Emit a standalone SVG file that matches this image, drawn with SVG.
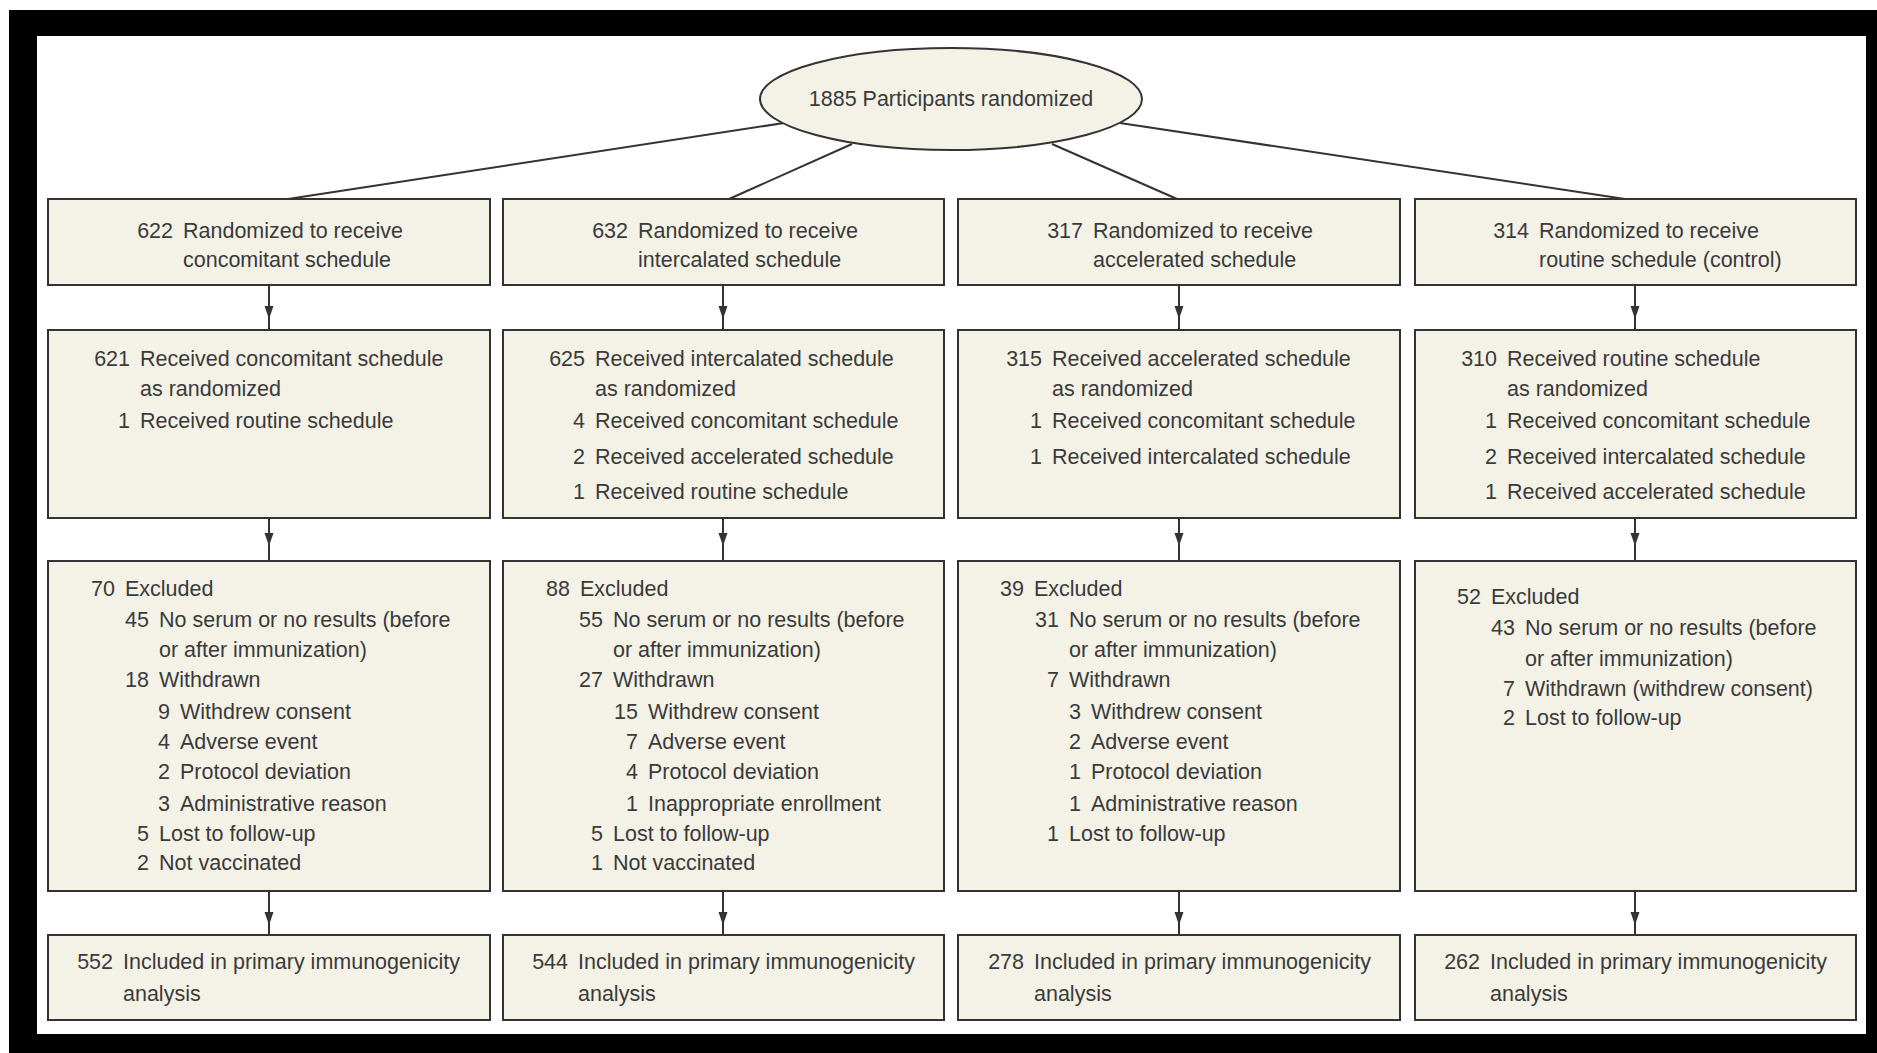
<svg xmlns="http://www.w3.org/2000/svg" width="1877" height="1053" viewBox="0 0 1877 1053">
<defs>
<style>
.bg{fill:#000}
.in{fill:#fff}
.box{fill:#f4f2e7;stroke:#333;stroke-width:2}
.t{font-family:"Liberation Sans",Arial,sans-serif;font-size:21.5px;fill:#3a3a3a}
.n{text-anchor:end}
.c{text-anchor:middle}
.ln{fill:none;stroke:#333;stroke-width:2}
</style>
<marker id="ah" markerUnits="userSpaceOnUse" markerWidth="14" markerHeight="10" refX="13" refY="4.5" orient="auto">
<path d="M0,0 L13,4.5 L0,9 z" fill="#333"/>
</marker>
</defs>
<rect x="0" y="0" width="1877" height="1053" fill="#fff"/>
<rect class="bg" x="9" y="10" width="1868" height="1043"/>
<rect class="in" x="37" y="36" width="1829" height="998"/>

<g id="connectors">
<path class="ln" d="M784,123 L288,199"/>
<path class="ln" d="M852,144 L729,199"/>
<path class="ln" d="M1052,144 L1177,199"/>
<path class="ln" d="M1120,123 L1625,199"/>
<path class="ln" d="M269,285 L269,319 L269,330" marker-mid="url(#ah)"/>
<path class="ln" d="M723,285 L723,319 L723,330" marker-mid="url(#ah)"/>
<path class="ln" d="M1179,285 L1179,319 L1179,330" marker-mid="url(#ah)"/>
<path class="ln" d="M1635,285 L1635,319 L1635,330" marker-mid="url(#ah)"/>
<path class="ln" d="M269,518 L269,546 L269,561" marker-mid="url(#ah)"/>
<path class="ln" d="M723,518 L723,546 L723,561" marker-mid="url(#ah)"/>
<path class="ln" d="M1179,518 L1179,546 L1179,561" marker-mid="url(#ah)"/>
<path class="ln" d="M1635,518 L1635,546 L1635,561" marker-mid="url(#ah)"/>
<path class="ln" d="M269,891 L269,925 L269,935" marker-mid="url(#ah)"/>
<path class="ln" d="M723,891 L723,925 L723,935" marker-mid="url(#ah)"/>
<path class="ln" d="M1179,891 L1179,925 L1179,935" marker-mid="url(#ah)"/>
<path class="ln" d="M1635,891 L1635,925 L1635,935" marker-mid="url(#ah)"/>
</g>

<g id="root">
<ellipse class="box" cx="951" cy="99" rx="191" ry="51"/>
<text class="t c" x="951" y="106">1885 Participants randomized</text>
</g>

<g id="rand1">
<rect class="box" x="48" y="199" width="442" height="86"/>
<text class="t n" x="173" y="238">622</text>
<text class="t" x="183" y="238">Randomized to receive</text>
<text class="t" x="183" y="267">concomitant schedule</text>
</g>
<g id="rand2">
<rect class="box" x="503" y="199" width="441" height="86"/>
<text class="t n" x="628" y="238">632</text>
<text class="t" x="638" y="238">Randomized to receive</text>
<text class="t" x="638" y="267">intercalated schedule</text>
</g>
<g id="rand3">
<rect class="box" x="958" y="199" width="442" height="86"/>
<text class="t n" x="1083" y="238">317</text>
<text class="t" x="1093" y="238">Randomized to receive</text>
<text class="t" x="1093" y="267">accelerated schedule</text>
</g>
<g id="rand4">
<rect class="box" x="1415" y="199" width="441" height="86"/>
<text class="t n" x="1529" y="238">314</text>
<text class="t" x="1539" y="238">Randomized to receive</text>
<text class="t" x="1539" y="267">routine schedule (control)</text>
</g>

<g id="recv1">
<rect class="box" x="48" y="330" width="442" height="188"/>
<text class="t n" x="130" y="366">621</text>
<text class="t" x="140" y="366">Received concomitant schedule</text>
<text class="t" x="140" y="396">as randomized</text>
<text class="t n" x="130" y="428">1</text>
<text class="t" x="140" y="428">Received routine schedule</text>
</g>
<g id="recv2">
<rect class="box" x="503" y="330" width="441" height="188"/>
<text class="t n" x="585" y="366">625</text>
<text class="t" x="595" y="366">Received intercalated schedule</text>
<text class="t" x="595" y="396">as randomized</text>
<text class="t n" x="585" y="428">4</text>
<text class="t" x="595" y="428">Received concomitant schedule</text>
<text class="t n" x="585" y="464">2</text>
<text class="t" x="595" y="464">Received accelerated schedule</text>
<text class="t n" x="585" y="499">1</text>
<text class="t" x="595" y="499">Received routine schedule</text>
</g>
<g id="recv3">
<rect class="box" x="958" y="330" width="442" height="188"/>
<text class="t n" x="1042" y="366">315</text>
<text class="t" x="1052" y="366">Received accelerated schedule</text>
<text class="t" x="1052" y="396">as randomized</text>
<text class="t n" x="1042" y="428">1</text>
<text class="t" x="1052" y="428">Received concomitant schedule</text>
<text class="t n" x="1042" y="464">1</text>
<text class="t" x="1052" y="464">Received intercalated schedule</text>
</g>
<g id="recv4">
<rect class="box" x="1415" y="330" width="441" height="188"/>
<text class="t n" x="1497" y="366">310</text>
<text class="t" x="1507" y="366">Received routine schedule</text>
<text class="t" x="1507" y="396">as randomized</text>
<text class="t n" x="1497" y="428">1</text>
<text class="t" x="1507" y="428">Received concomitant schedule</text>
<text class="t n" x="1497" y="464">2</text>
<text class="t" x="1507" y="464">Received intercalated schedule</text>
<text class="t n" x="1497" y="499">1</text>
<text class="t" x="1507" y="499">Received accelerated schedule</text>
</g>

<g id="excl1">
<rect class="box" x="48" y="561" width="442" height="330"/>
<text class="t n" x="115" y="596">70</text>
<text class="t" x="125" y="596">Excluded</text>
<text class="t n" x="149" y="627">45</text>
<text class="t" x="159" y="627">No serum or no results (before</text>
<text class="t" x="159" y="657">or after immunization)</text>
<text class="t n" x="149" y="687">18</text>
<text class="t" x="159" y="687">Withdrawn</text>
<text class="t n" x="170" y="719">9</text>
<text class="t" x="180" y="719">Withdrew consent</text>
<text class="t n" x="170" y="749">4</text>
<text class="t" x="180" y="749">Adverse event</text>
<text class="t n" x="170" y="779">2</text>
<text class="t" x="180" y="779">Protocol deviation</text>
<text class="t n" x="170" y="811">3</text>
<text class="t" x="180" y="811">Administrative reason</text>
<text class="t n" x="149" y="841">5</text>
<text class="t" x="159" y="841">Lost to follow-up</text>
<text class="t n" x="149" y="870">2</text>
<text class="t" x="159" y="870">Not vaccinated</text>
</g>
<g id="excl2">
<rect class="box" x="503" y="561" width="441" height="330"/>
<text class="t n" x="570" y="596">88</text>
<text class="t" x="580" y="596">Excluded</text>
<text class="t n" x="603" y="627">55</text>
<text class="t" x="613" y="627">No serum or no results (before</text>
<text class="t" x="613" y="657">or after immunization)</text>
<text class="t n" x="603" y="687">27</text>
<text class="t" x="613" y="687">Withdrawn</text>
<text class="t n" x="638" y="719">15</text>
<text class="t" x="648" y="719">Withdrew consent</text>
<text class="t n" x="638" y="749">7</text>
<text class="t" x="648" y="749">Adverse event</text>
<text class="t n" x="638" y="779">4</text>
<text class="t" x="648" y="779">Protocol deviation</text>
<text class="t n" x="638" y="811">1</text>
<text class="t" x="648" y="811">Inappropriate enrollment</text>
<text class="t n" x="603" y="841">5</text>
<text class="t" x="613" y="841">Lost to follow-up</text>
<text class="t n" x="603" y="870">1</text>
<text class="t" x="613" y="870">Not vaccinated</text>
</g>
<g id="excl3">
<rect class="box" x="958" y="561" width="442" height="330"/>
<text class="t n" x="1024" y="596">39</text>
<text class="t" x="1034" y="596">Excluded</text>
<text class="t n" x="1059" y="627">31</text>
<text class="t" x="1069" y="627">No serum or no results (before</text>
<text class="t" x="1069" y="657">or after immunization)</text>
<text class="t n" x="1059" y="687">7</text>
<text class="t" x="1069" y="687">Withdrawn</text>
<text class="t n" x="1081" y="719">3</text>
<text class="t" x="1091" y="719">Withdrew consent</text>
<text class="t n" x="1081" y="749">2</text>
<text class="t" x="1091" y="749">Adverse event</text>
<text class="t n" x="1081" y="779">1</text>
<text class="t" x="1091" y="779">Protocol deviation</text>
<text class="t n" x="1081" y="811">1</text>
<text class="t" x="1091" y="811">Administrative reason</text>
<text class="t n" x="1059" y="841">1</text>
<text class="t" x="1069" y="841">Lost to follow-up</text>
</g>
<g id="excl4">
<rect class="box" x="1415" y="561" width="441" height="330"/>
<text class="t n" x="1481" y="604">52</text>
<text class="t" x="1491" y="604">Excluded</text>
<text class="t n" x="1515" y="635">43</text>
<text class="t" x="1525" y="635">No serum or no results (before</text>
<text class="t" x="1525" y="666">or after immunization)</text>
<text class="t n" x="1515" y="696">7</text>
<text class="t" x="1525" y="696">Withdrawn (withdrew consent)</text>
<text class="t n" x="1515" y="725">2</text>
<text class="t" x="1525" y="725">Lost to follow-up</text>
</g>

<g id="incl1">
<rect class="box" x="48" y="935" width="442" height="85"/>
<text class="t n" x="113" y="969">552</text>
<text class="t" x="123" y="969">Included in primary immunogenicity</text>
<text class="t" x="123" y="1001">analysis</text>
</g>
<g id="incl2">
<rect class="box" x="503" y="935" width="441" height="85"/>
<text class="t n" x="568" y="969">544</text>
<text class="t" x="578" y="969">Included in primary immunogenicity</text>
<text class="t" x="578" y="1001">analysis</text>
</g>
<g id="incl3">
<rect class="box" x="958" y="935" width="442" height="85"/>
<text class="t n" x="1024" y="969">278</text>
<text class="t" x="1034" y="969">Included in primary immunogenicity</text>
<text class="t" x="1034" y="1001">analysis</text>
</g>
<g id="incl4">
<rect class="box" x="1415" y="935" width="441" height="85"/>
<text class="t n" x="1480" y="969">262</text>
<text class="t" x="1490" y="969">Included in primary immunogenicity</text>
<text class="t" x="1490" y="1001">analysis</text>
</g>
</svg>
